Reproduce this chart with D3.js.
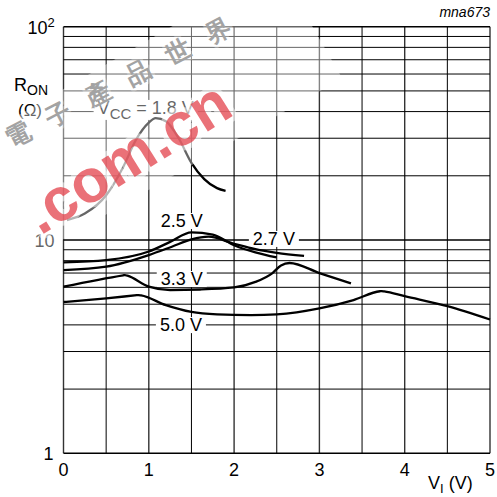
<!DOCTYPE html>
<html>
<head>
<meta charset="utf-8">
<script src="https://cdn.jsdelivr.net/npm/d3@7"></script>
<style>
  body { margin: 0; background: #fff; }
  text { font-family: "Liberation Sans", Arial, sans-serif; }
</style>
</head>
<body>
<div id="chart-area"></div>
<script>
// R_ON versus V_I, one curve per supply voltage
const vi18  = [0.04, 0.25, 0.5, 0.7, 0.85, 1.0, 1.08, 1.2, 1.35, 1.5, 1.65, 1.8, 1.9];
const ron18 = [12.4, 13.3, 16.2, 22, 29.5, 35.5, 37.3, 36, 30, 23, 19.3, 17.5, 17.0];

const vi25  = [0, 0.5, 1.0, 1.25, 1.5, 1.75, 2.0, 2.25, 2.5];
const ron25 = [7.86, 8.05, 8.83, 9.8, 10.86, 10.6, 9.45, 8.75, 8.28];

const vi27  = [0, 0.5, 1.0, 1.27, 1.5, 1.7, 2.0, 2.25, 2.5, 2.82];
const ron27 = [7.23, 7.5, 8.5, 9.3, 10.06, 10.36, 9.6, 9.05, 8.7, 8.42];

const vi33  = [0, 0.7, 0.72, 0.75, 1.0, 1.25, 1.6, 2.0, 2.25, 2.45, 2.55, 2.65, 3.0, 3.37];
const ron33 = [6.04, 6.83, 6.85, 6.8, 6.05, 5.83, 5.86, 5.99, 6.36, 7.0, 7.6, 7.8, 7.0, 6.26];

const vi50  = [0, 0.5, 0.86, 0.88, 0.91, 1.2, 1.5, 1.8, 2.2, 2.5, 3.0, 3.4, 3.71, 3.73, 3.76, 4.0, 4.5, 5.0];
const ron50 = [5.12, 5.33, 5.51, 5.52, 5.5, 4.95, 4.6, 4.48, 4.44, 4.48, 4.78, 5.23, 5.75, 5.76, 5.74, 5.45, 4.9, 4.24];

const xTicks = [0, 1, 2, 3, 4, 5];
const xGrid = d3.range(0, 5.01, 0.5);
const yGrid = [1, 2, 3, 4, 5, 6, 7, 8, 9, 10, 20, 30, 40, 50, 60, 70, 80, 90, 100];

const svgWidth = 497, svgHeight = 497;
const margin = { left: 63.5, right: 7, top: 26.7, bottom: 43.7 };
const width = svgWidth - margin.left - margin.right;
const height = svgHeight - margin.top - margin.bottom;

const svg = d3.select("#chart-area")
  .append("svg")
  .attr("width", svgWidth)
  .attr("height", svgHeight);

const g = svg.append("g")
  .attr("transform", `translate(${margin.left},${margin.top})`);

const x = d3.scaleLinear().domain([0, 5]).range([0, width]);
const y = d3.scaleLog().domain([1, 100]).range([height, 0]);

// grid
g.selectAll(".vgrid")
  .data(xGrid)
  .enter()
  .append("line")
    .attr("x1", d => x(d)).attr("x2", d => x(d))
    .attr("y1", 0).attr("y2", height)
    .attr("stroke", d => Number.isInteger(d) ? "#333" : "#000")
    .attr("stroke-width", d => Number.isInteger(d) ? 1.4 : 1);

g.selectAll(".hgrid")
  .data(yGrid)
  .enter()
  .append("line")
    .attr("x1", 0).attr("x2", width)
    .attr("y1", d => y(d)).attr("y2", d => y(d))
    .attr("stroke", "#000")
    .attr("stroke-width", d => (d === 1 || d === 10 || d === 100) ? 1.4 : 1);

// axis tick labels
g.selectAll(".xlab")
  .data(xTicks)
  .enter()
  .append("text")
    .attr("x", d => x(d))
    .attr("y", height + 23)
    .attr("text-anchor", "middle")
    .attr("font-size", 18)
    .text(d => d);

g.append("text")
  .attr("x", -10).attr("y", y(1) + 7)
  .attr("text-anchor", "end")
  .attr("font-size", 18)
  .text("1");

g.append("text")
  .attr("x", -9).attr("y", y(10) + 7)
  .attr("text-anchor", "end")
  .attr("font-size", 18)
  .text("10");

const t100 = g.append("text")
  .attr("x", -36).attr("y", y(100) + 7)
  .attr("font-size", 18);
t100.append("tspan").text("10");
t100.append("tspan").attr("dy", -7).attr("font-size", 13).text("2");

// axis titles
const yt = svg.append("text").attr("x", 14).attr("y", 91).attr("font-size", 18);
yt.append("tspan").text("R");
yt.append("tspan").attr("dy", 4).attr("font-size", 14).text("ON");
svg.append("text")
  .attr("x", 18).attr("y", 116)
  .attr("font-size", 17)
  .text("(Ω)");

const xt = svg.append("text").attr("x", 428).attr("y", 489).attr("font-size", 18);
xt.append("tspan").text("V");
xt.append("tspan").attr("dy", 4).attr("font-size", 13).text("I");
xt.append("tspan").attr("dy", -4).text(" (V)");

svg.append("text")
  .attr("x", 490).attr("y", 17)
  .attr("text-anchor", "end")
  .attr("font-style", "italic")
  .attr("font-size", 14)
  .text("mna673");

// curve labels with white boxes over the grid
const labels = [
  { main: "V", sub: "CC", rest: " = 1.8 V", vx: 0.4, vy: 39 },
  { main: "2.5 V", vx: 1.14, vy: 11.5 },
  { main: "2.7 V", vx: 2.22, vy: 9.48 },
  { main: "3.3 V", vx: 1.14, vy: 6.15 },
  { main: "5.0 V", vx: 1.13, vy: 3.74 }
];
labels.forEach(l => {
  const t = g.append("text")
    .attr("x", x(l.vx)).attr("y", y(l.vy))
    .attr("font-size", 18);
  t.append("tspan").text(l.main);
  if (l.sub) {
    t.append("tspan").attr("dy", 5).attr("font-size", 15).text(l.sub);
    t.append("tspan").attr("dy", -5).text(l.rest);
  }
  const b = t.node().getBBox();
  g.insert("rect", "text")
    .attr("x", b.x - 4).attr("y", b.y + 2)
    .attr("width", b.width + 8).attr("height", b.height - 4)
    .attr("fill", "#fff");
});

// curves
const series = [
  [vi18, ron18], [vi25, ron25], [vi27, ron27], [vi33, ron33], [vi50, ron50]
];
const line = d3.line()
  .x(d => x(d[0]))
  .y(d => y(d[1]))
  .curve(d3.curveMonotoneX);

g.selectAll(".curve")
  .data(series)
  .enter()
  .append("path")
    .attr("d", s => line(d3.zip(s[0], s[1])))
    .attr("fill", "none")
    .attr("stroke", "#000")
    .attr("stroke-width", 2.3);

// watermark: faded band, grey characters, red url
svg.append("rect")
  .attr("transform", "translate(140,128) rotate(-30)")
  .attr("x", -200).attr("y", -72)
  .attr("width", 400).attr("height", 130)
  .attr("fill", "#fff")
  .attr("opacity", 0.4);

svg.append("text")
  .attr("transform", "translate(131,86) rotate(-27.5)")
  .attr("text-anchor", "middle")
  .attr("font-family", "Noto Sans CJK TC")
  .attr("font-weight", "bold")
  .attr("font-size", 25)
  .attr("letter-spacing", 20)
  .attr("fill", "#a3a3a3")
  .attr("stroke", "#fff")
  .attr("stroke-width", 6)
  .attr("stroke-opacity", 0.3)
  .attr("stroke-linejoin", "round")
  .attr("paint-order", "stroke")
  .text("電子產品世界");

svg.append("text")
  .attr("transform", "translate(138,175) rotate(-32)")
  .attr("text-anchor", "middle")
  .attr("font-weight", "bold")
  .attr("font-size", 61)
  .attr("fill", "#e23a44")
  .attr("fill-opacity", 0.72)
  .attr("stroke", "#fff")
  .attr("stroke-width", 10)
  .attr("stroke-opacity", 0.5)
  .attr("stroke-linejoin", "round")
  .attr("paint-order", "stroke")
  .text(".com.cn");
</script>
</body>
</html>
